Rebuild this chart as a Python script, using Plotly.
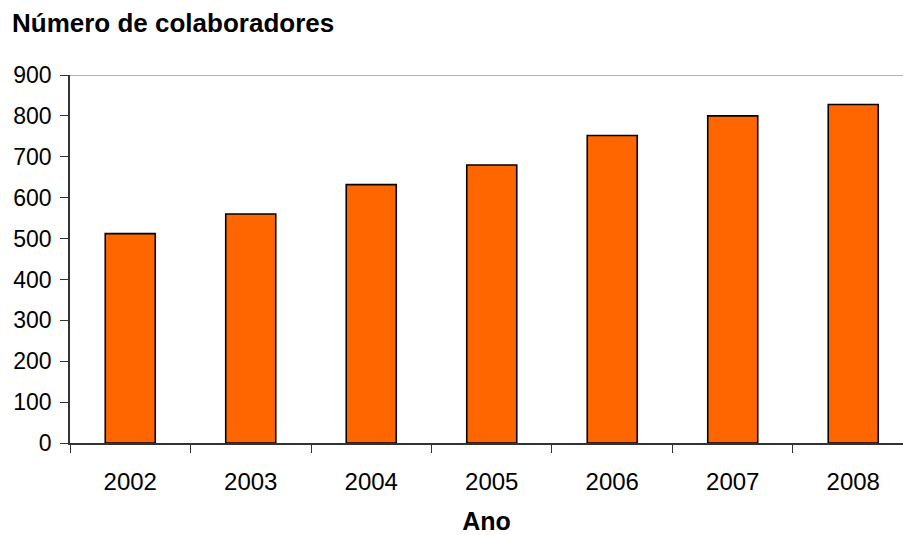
import plotly.graph_objects as go

anos = ["2002", "2003", "2004", "2005", "2006", "2007", "2008"]
colaboradores = [512, 560, 632, 680, 752, 800, 828]
y_ticks = [0, 100, 200, 300, 400, 500, 600, 700, 800, 900]

FONT = "Liberation Sans, Arial, sans-serif"

fig = go.Figure()
fig.add_trace(go.Bar(
    x=anos,
    y=colaboradores,
    width=0.415,
    marker=dict(color="#FF6600", line=dict(color="#000000", width=1.6)),
))

fig.add_shape(type="line", xref="paper", yref="y", x0=0, x1=1, y0=900, y1=900,
              line=dict(color="#999999", width=1.5), layer="below")

fig.update_layout(
    width=903, height=535,
    margin=dict(l=70, r=0, t=75, b=92),
    paper_bgcolor="white", plot_bgcolor="white",
    showlegend=False,
    font=dict(family=FONT, color="black", size=22),
    title=dict(text="<b>Número de colaboradores</b>", x=12/903, xanchor="left",
               xref="container", y=1 - 23/535, yanchor="middle", yref="container",
               font=dict(family=FONT, size=26, color="black")),
    xaxis=dict(
        type="category", range=[-0.5, 6.413],
        showline=True, linecolor="#333333", linewidth=1.5,
        ticks="outside", ticklen=8, tickcolor="#333333", tickwidth=1.2,
        tickson="boundaries", showgrid=False,
        tickfont=dict(size=24), ticklabelstandoff=16,
        title=dict(text="<b>Ano</b>", font=dict(size=25), standoff=24),
    ),
    yaxis=dict(
        range=[0, 900], tickvals=y_ticks, showgrid=False,
        showline=True, linecolor="#333333", linewidth=1.5,
        ticks="outside", ticklen=8, tickcolor="#333333", tickwidth=1.2,
        tickfont=dict(size=23), ticklabelstandoff=4, zeroline=False,
    ),
)

fig.write_html("out.html")
